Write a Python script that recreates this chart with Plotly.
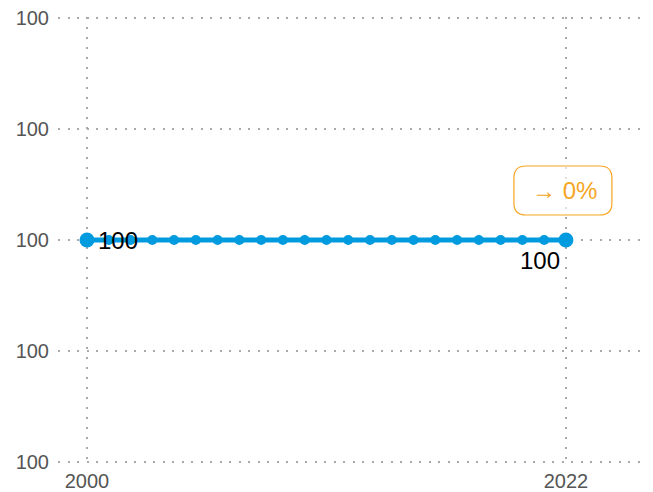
import plotly.graph_objects as go

# ---- data ----
years = list(range(2000, 2023))
values = [100] * len(years)
x_tickvals = [2000, 2022]
y_tickvals = [99.8, 99.9, 100.0, 100.1, 100.2]
title_text = "Index (%)"

BLUE = "#009ADE"
ORANGE = "#F5A623"
GRID = "#AAAAAA"
FONT = "Liberation Sans, Arial, sans-serif"

first, last = values[0], values[-1]
change = (last / first - 1) * 100
change_text = "→ %d%%" % round(change)

n = len(years)
sizes = [15] + [10] * (n - 2) + [15]

fig = go.Figure()
fig.add_trace(go.Scatter(
    x=years, y=values, mode="lines+markers",
    line=dict(color=BLUE, width=5),
    marker=dict(color=BLUE, size=sizes, opacity=1, line=dict(width=0)),
    hoverinfo="skip", showlegend=False,
))

annotations = [
    dict(x=years[0], y=first, xref="x", yref="y", text=str(first),
         showarrow=False, xanchor="left", yanchor="middle", xshift=9, yshift=0,
         font=dict(family=FONT, size=24, color="black")),
    dict(x=years[-1], y=last, xref="x", yref="y", text=str(last),
         showarrow=False, xanchor="right", yanchor="top", xshift=-4, yshift=-5,
         font=dict(family=FONT, size=24, color="black")),
    dict(x=years[-1], y=last, xref="x", yref="y", text=change_text,
         showarrow=False, xanchor="center", yanchor="middle", xshift=-1, yshift=50,
         font=dict(family=FONT, size=24, color=ORANGE)),
    dict(x=0.267, y=1, xref="paper", yref="paper", text=title_text,
         showarrow=False, xanchor="right", yanchor="bottom", yshift=8,
         font=dict(family=FONT, size=22, color="black")),
]

shapes = [
    dict(type="path", xref="x", yref="y", xsizemode="pixel", ysizemode="pixel",
         xanchor=years[-1], yanchor=last,
         path="M -40,25 L 34,25 Q 46,25 46,37 L 46,62 Q 46,74 34,74 L -40,74 "
              "Q -52,74 -52,62 L -52,37 Q -52,25 -40,25 Z",
         line=dict(color=ORANGE, width=1.2), fillcolor="rgba(255,255,255,0.6)",
         layer="above"),
]

fig.update_layout(
    width=653, height=492,
    margin=dict(l=50, r=8, t=9, b=37),
    plot_bgcolor="white", paper_bgcolor="white",
    font=dict(family=FONT, color="#555555", size=20),
    annotations=annotations, shapes=shapes,
    xaxis=dict(range=[1998.668, 2026.0], tickvals=x_tickvals, showgrid=True,
               gridcolor=GRID, gridwidth=2, griddash="2px,8px", zeroline=False,
               showline=False, ticks="", ticklabeloverflow="allow", automargin=False,
               ticklabelstandoff=4,
               tickfont=dict(size=20, color="#555555")),
    yaxis=dict(range=[99.799, 100.201], tickvals=y_tickvals, tickformat=".0f",
               showgrid=True, gridcolor=GRID, gridwidth=2, griddash="2px,7.5px",
               zeroline=False, showline=False, ticks="", ticklabelstandoff=8,
               ticklabeloverflow="allow", automargin=False,
               tickfont=dict(size=20, color="#555555")),
)

fig.write_html("out.html")
